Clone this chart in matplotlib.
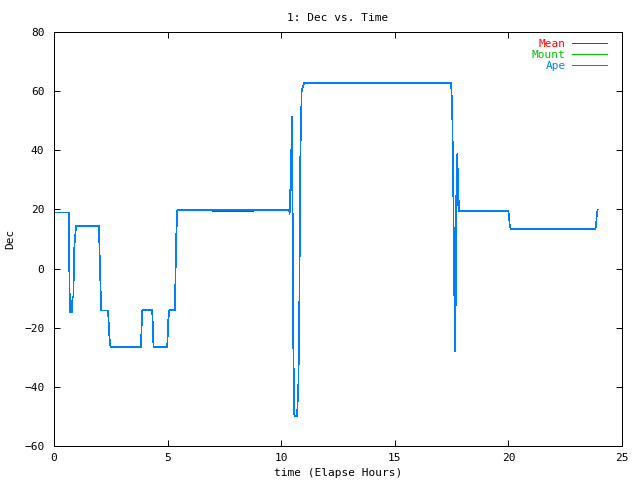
import matplotlib
matplotlib.use("Agg")
import matplotlib.pyplot as plt

# Ape (blue) track: elapsed hours vs Dec
ape_time = [0.00, 0.66, 0.67, 0.70, 0.80, 0.81, 0.86, 0.87, 0.90, 0.97,
            1.98, 2.00, 2.05, 2.08, 2.38, 2.40, 2.44, 2.49, 3.83, 3.85,
            3.89, 4.32, 4.34, 4.38, 4.98, 5.00, 5.03, 5.07, 5.32, 5.34,
            5.38, 5.43, 10.35, 10.37, 10.40, 10.43, 10.45, 10.46, 10.48, 10.50,
            10.53, 10.58, 10.70, 10.72, 10.76, 10.80, 10.84, 10.90, 11.00, 17.48,
            17.50, 17.53, 17.57, 17.62, 17.66, 17.68, 17.70, 17.75, 17.76, 17.78,
            17.80, 17.84, 20.00, 20.02, 20.06, 20.10, 23.83, 23.86, 23.89, 23.93]
ape_dec = [19.0, 19.0, 2.3, -14.8, -14.8, -9.6, -9.6, 0.9, 8.1, 14.4,
           14.4, 7.2, -7.0, -14.2, -14.2, -17.5, -23.2, -26.5, -26.5, -20.5,
           -14.1, -14.1, -17.5, -26.5, -26.5, -23.5, -17.5, -14.1, -14.1, -5.9,
           11.1, 19.7, 19.8, 18.3, 26.6, 26.6, 42.9, 27.0, 51.4, 26.0,
           -24.7, -49.9, -49.9, -45.9, -38.2, -10.4, 37.0, 60.0, 62.7, 62.7,
           59.0, 52.2, 29.6, -8.7, -28.1, -11.4, 21.7, 38.7, 21.5, 33.6,
           24.3, 19.4, 19.4, 17.8, 14.7, 13.3, 13.3, 14.7, 18.1, 19.9]

# Mount (green) follows the Ape track
mount_time = list(ape_time)
mount_dec = list(ape_dec)

# Mean (red) sits a touch lower between ~7 and ~8.8 h
mean_gap_time = [6.96, 6.97, 8.78, 8.79]
mean_gap_dec = [19.8, 19.5, 19.5, 19.8]
split = ape_time.index(10.35)
mean_time = ape_time[:split] + mean_gap_time + ape_time[split:]
mean_dec = ape_dec[:split] + mean_gap_dec + ape_dec[split:]

plt.rcParams['font.family'] = ['DejaVu Sans Mono']
plt.rcParams['font.size'] = 8

fig = plt.figure(figsize=(6.4, 4.8), dpi=100)
ax = fig.add_axes([54 / 640, 34 / 480, 568 / 640, 414 / 480])

lw = 0.5  # thin aliased line, one pixel wide
ax.plot(mean_time, mean_dec, color='#ff0000', lw=lw, label='Mean', antialiased=False)
ax.plot(mount_time, mount_dec, color='#00c000', lw=lw, label='Mount', antialiased=False)
ax.plot(ape_time, ape_dec, color='#0080ff', lw=lw, label='Ape', antialiased=False)

ax.set_xlim(0, 25)
ax.set_ylim(-60, 80)
ax.set_xticks(range(0, 26, 5))
ax.set_yticks(range(-60, 81, 20))
ax.tick_params(direction='in', length=4, width=0.72, top=True, right=True,
               labelsize=8)
ax.tick_params(axis='x', pad=5)
ax.tick_params(axis='y', pad=7)
for s in ax.spines.values():
    s.set_linewidth(0.72)

ax.set_title('1: Dec vs. Time', fontsize=8, pad=8)
ax.set_xlabel('time (Elapse Hours)', fontsize=8, labelpad=4)
ax.set_ylabel('Dec', fontsize=8, labelpad=6)

leg = ax.legend(loc='upper right', bbox_to_anchor=(0.987, 1.003), frameon=False,
                markerfirst=False, labelcolor='linecolor', handlelength=3.1,
                handletextpad=0.6, labelspacing=0.1, borderaxespad=0.3, fontsize=8)
for h in leg.get_lines():
    h.set_antialiased(False)

fig.savefig('out.png', dpi=100)
